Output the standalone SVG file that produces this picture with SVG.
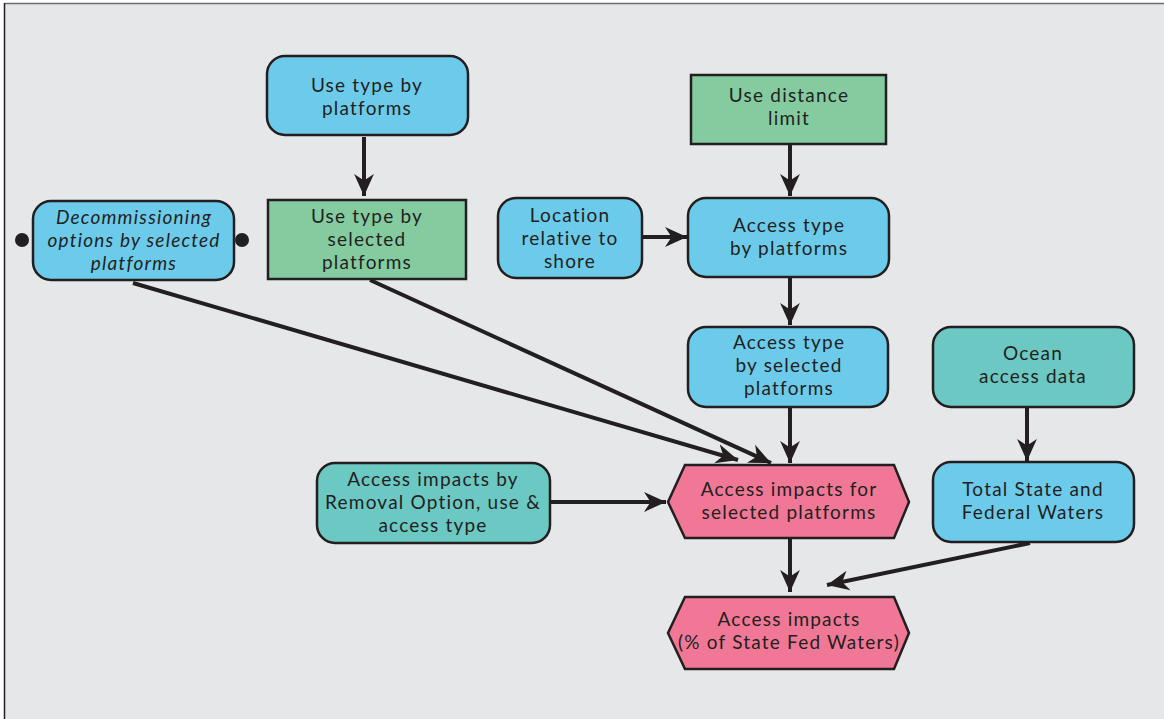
<svg xmlns="http://www.w3.org/2000/svg" width="1164" height="719" viewBox="0 0 1164 719">
<defs>
<style>
.bg{fill:#e6e7e8;stroke:none}
.blue{fill:#6ccbeb;stroke:#231f20;stroke-width:2.5}
.green{fill:#85cba0;stroke:#231f20;stroke-width:2.5}
.teal{fill:#6cc8c3;stroke:#231f20;stroke-width:2.5}
.pink{fill:#f07896;stroke:#231f20;stroke-width:2.5}
text{font-family:Lato,"Open Sans","Liberation Sans",sans-serif;font-size:19px;letter-spacing:1.2px;fill:#231f20;text-anchor:middle}
.it{font-style:italic}
.conn line{stroke:#231f20;stroke-width:4;fill:none}
</style>
<marker id="ah" markerUnits="userSpaceOnUse" viewBox="0 0 20 20" refX="20" refY="10" markerWidth="22" markerHeight="22" orient="auto">
<path d="M0,1 L20,10 L0,19 L6,10 Z" fill="#231f20"/>
</marker>
</defs>
<rect x="0" y="0" width="1164" height="719" fill="#ffffff"/>
<rect class="bg" x="5" y="3" width="1159" height="716"/>
<line x1="5" y1="3.5" x2="1164" y2="3.5" stroke="#6d6e71" stroke-width="1.5"/>
<line x1="4.5" y1="3" x2="4.5" y2="719" stroke="#231f20" stroke-width="1.5"/>

<g class="conn" id="connectors">
<line x1="364" y1="137" x2="364" y2="196" marker-end="url(#ah)"/>
<line x1="790" y1="145" x2="790" y2="196" marker-end="url(#ah)"/>
<line x1="643" y1="237" x2="687" y2="237" marker-end="url(#ah)"/>
<line x1="790" y1="278" x2="790" y2="325" marker-end="url(#ah)"/>
<line x1="790" y1="408" x2="790" y2="463" marker-end="url(#ah)"/>
<line x1="133" y1="283" x2="738" y2="460" marker-end="url(#ah)"/>
<line x1="370" y1="280" x2="771" y2="463" marker-end="url(#ah)"/>
<line x1="551" y1="502" x2="666" y2="502" marker-end="url(#ah)"/>
<line x1="1027" y1="408" x2="1027" y2="461" marker-end="url(#ah)"/>
<line x1="790" y1="539" x2="790" y2="592" marker-end="url(#ah)"/>
<line x1="1030" y1="543" x2="827" y2="585" marker-end="url(#ah)"/>
</g>

<g id="use-type-platforms">
<rect class="blue" x="267" y="56" width="201" height="79" rx="18"/>
<text x="367" y="92">Use type by</text>
<text x="367" y="115">platforms</text>
</g>

<g id="use-type-selected">
<rect class="green" x="268" y="200" width="198" height="79"/>
<text x="367" y="223">Use type by</text>
<text x="367" y="246">selected</text>
<text x="367" y="269">platforms</text>
</g>

<g id="decommissioning">
<rect class="blue" x="33" y="201" width="201" height="79" rx="18"/>
<circle cx="22" cy="240" r="7" fill="#231f20"/>
<circle cx="242" cy="240" r="7" fill="#231f20"/>
<text class="it" x="134" y="224">Decommissioning</text>
<text class="it" x="134" y="247">options by selected</text>
<text class="it" x="134" y="270">platforms</text>
</g>

<g id="location">
<rect class="blue" x="498" y="198" width="144" height="80" rx="18"/>
<text x="570" y="222">Location</text>
<text x="570" y="245">relative to</text>
<text x="570" y="268">shore</text>
</g>

<g id="use-distance">
<rect class="green" x="691" y="75" width="195" height="69"/>
<text x="789" y="102">Use distance</text>
<text x="789" y="125">limit</text>
</g>

<g id="access-type-platforms">
<rect class="blue" x="688" y="198" width="201" height="79" rx="18"/>
<text x="789" y="232">Access type</text>
<text x="789" y="255">by platforms</text>
</g>

<g id="access-type-selected">
<rect class="blue" x="688" y="327" width="200" height="80" rx="18"/>
<text x="789" y="349">Access type</text>
<text x="789" y="372">by selected</text>
<text x="789" y="395">platforms</text>
</g>

<g id="ocean-access">
<rect class="teal" x="933" y="327" width="201" height="80" rx="18"/>
<text x="1033" y="360">Ocean</text>
<text x="1033" y="383">access data</text>
</g>

<g id="total-waters">
<rect class="blue" x="933" y="462" width="201" height="80" rx="18"/>
<text x="1033" y="496">Total State and</text>
<text x="1033" y="519">Federal Waters</text>
</g>

<g id="removal-option">
<rect class="teal" x="317" y="463" width="233" height="80" rx="18"/>
<text x="433" y="486">Access impacts by</text>
<text x="433" y="509">Removal Option, use &amp;</text>
<text x="433" y="532">access type</text>
</g>

<g id="access-impacts-selected">
<polygon class="pink" points="685,465 894,465 909,502 894,538 685,538 668,502"/>
<text x="789" y="496">Access impacts for</text>
<text x="789" y="519">selected platforms</text>
</g>

<g id="access-impacts-pct">
<polygon class="pink" points="685,597 894,597 909,633 894,669 685,669 668,633"/>
<text x="789" y="626">Access impacts</text>
<text x="789" y="649">(% of State Fed Waters)</text>
</g>
</svg>
